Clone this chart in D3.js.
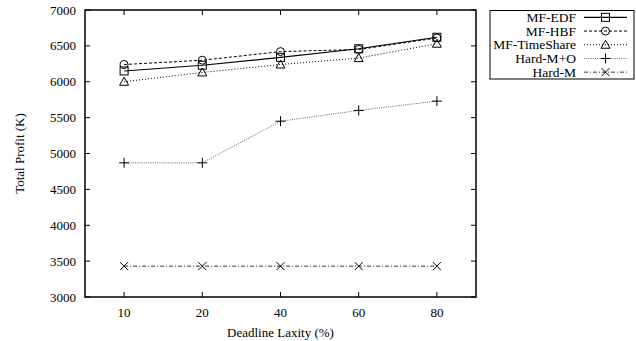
<!DOCTYPE html>
<html>
<head>
<meta charset="utf-8">
<script src="https://cdn.jsdelivr.net/npm/d3@7"></script>
<style>
  body { margin: 0; background: #fff; }
  text { font-family: "Liberation Serif", "Times New Roman", serif; fill: #000; }
</style>
</head>
<body>
<svg class="chart"></svg>
<script>
// data
const laxity = ["10", "20", "40", "60", "80"];
const seriesNames = ["MF-EDF", "MF-HBF", "MF-TimeShare", "Hard-M+O", "Hard-M"];
const mfEdf = [6150, 6230, 6340, 6460, 6620];
const mfHbf = [6240, 6300, 6420, 6450, 6610];
const mfTimeShare = [6000, 6130, 6240, 6330, 6530];
const hardMO = [4870, 4870, 5450, 5600, 5730];
const hardM = [3430, 3430, 3430, 3430, 3430];
const yTicks = [3000, 3500, 4000, 4500, 5000, 5500, 6000, 6500, 7000];

const series = [mfEdf, mfHbf, mfTimeShare, hardMO, hardM];

// line style and marker per series
const styles = [
  { dash: null, stroke: "#000", width: 1.2, marker: "square" },
  { dash: "3,2", stroke: "#000", width: 1, marker: "circle" },
  { dash: "1,2", stroke: "#000", width: 1, marker: "triangle" },
  { dash: "1,1.2", stroke: "#666", width: 1, marker: "plus" },
  { dash: "4,2,1,2", stroke: "#000", width: 0.8, marker: "cross" }
];

const width = 636, height = 341;
const plotL = 85, plotR = 476, plotT = 10, plotB = 297;
const fs = "13px";

const svg = d3.select(".chart")
  .attr("width", width)
  .attr("height", height);

// x is index based, categories evenly spaced
const x = d3.scaleLinear()
  .domain([-0.5, laxity.length - 0.5])
  .range([plotL, plotR]);

const y = d3.scaleLinear()
  .domain([3000, 7000])
  .range([plotB, plotT]);

// ticks on all four sides, pointing in
const tickLen = 5;
const g = svg.append("g");

g.selectAll(".ytl").data(yTicks).enter().append("line")
  .attr("x1", plotL).attr("x2", plotL + tickLen)
  .attr("y1", d => y(d)).attr("y2", d => y(d))
  .attr("stroke", "#000");
g.selectAll(".ytr").data(yTicks).enter().append("line")
  .attr("x1", plotR).attr("x2", plotR - tickLen)
  .attr("y1", d => y(d)).attr("y2", d => y(d))
  .attr("stroke", "#000");
g.selectAll(".ylab").data(yTicks).enter().append("text")
  .attr("x", plotL - 9)
  .attr("y", d => y(d))
  .attr("dy", "0.35em")
  .attr("text-anchor", "end")
  .style("font-size", fs)
  .text(d => d);

g.selectAll(".xtb").data(laxity).enter().append("line")
  .attr("x1", (d, i) => x(i)).attr("x2", (d, i) => x(i))
  .attr("y1", plotB).attr("y2", plotB - tickLen)
  .attr("stroke", "#000");
g.selectAll(".xtt").data(laxity).enter().append("line")
  .attr("x1", (d, i) => x(i)).attr("x2", (d, i) => x(i))
  .attr("y1", plotT).attr("y2", plotT + tickLen)
  .attr("stroke", "#000");
g.selectAll(".xlab").data(laxity).enter().append("text")
  .attr("x", (d, i) => x(i))
  .attr("y", plotB + 19.5)
  .attr("text-anchor", "middle")
  .style("font-size", fs)
  .text(d => d);

// frame
svg.append("rect")
  .attr("x", plotL).attr("y", plotT)
  .attr("width", plotR - plotL).attr("height", plotB - plotT)
  .attr("fill", "none")
  .attr("stroke", "#000")
  .attr("stroke-width", 1.5);

// axis titles
svg.append("text")
  .attr("transform", `translate(24, ${(plotT + plotB) / 2}) rotate(-90)`)
  .attr("text-anchor", "middle")
  .style("font-size", fs)
  .text("Total Profit (K)");

svg.append("text")
  .attr("x", (plotL + plotR) / 2)
  .attr("y", plotB + 39.5)
  .attr("text-anchor", "middle")
  .style("font-size", fs)
  .text("Deadline Laxity (%)");

// marker drawing helper
function drawMarker(sel, type, cx, cy) {
  const s = 4;
  if (type === "square") {
    sel.append("rect").attr("x", cx - s).attr("y", cy - s)
      .attr("width", 2 * s).attr("height", 2 * s)
      .attr("fill", "none").attr("stroke", "#000");
  } else if (type === "circle") {
    sel.append("circle").attr("cx", cx).attr("cy", cy).attr("r", s)
      .attr("fill", "none").attr("stroke", "#000");
  } else if (type === "triangle") {
    sel.append("path")
      .attr("d", `M${cx},${cy - s - 0.5}L${cx + s + 0.5},${cy + s - 0.5}L${cx - s - 0.5},${cy + s - 0.5}Z`)
      .attr("fill", "none").attr("stroke", "#000");
  } else if (type === "plus") {
    sel.append("path")
      .attr("d", `M${cx - s - 1},${cy}H${cx + s + 1}M${cx},${cy - s - 1}V${cy + s + 1}`)
      .attr("stroke", "#000");
  } else if (type === "cross") {
    sel.append("path")
      .attr("d", `M${cx - s},${cy - s}L${cx + s},${cy + s}M${cx - s},${cy + s}L${cx + s},${cy - s}`)
      .attr("stroke", "#000");
  }
}

const line = d3.line()
  .x((d, i) => x(i))
  .y(d => y(d));

series.forEach((vals, k) => {
  const st = styles[k];
  const sg = svg.append("g");
  sg.append("path")
    .datum(vals)
    .attr("d", line)
    .attr("fill", "none")
    .attr("stroke", st.stroke)
    .attr("stroke-width", st.width)
    .attr("stroke-dasharray", st.dash);
  vals.forEach((v, i) => drawMarker(sg, st.marker, x(i), y(v)));
});

// legend box
const lgX = 490, lgY = 10.5, lgW = 144, rowH = 13.7;
svg.append("rect")
  .attr("x", lgX).attr("y", lgY)
  .attr("width", lgW).attr("height", rowH * seriesNames.length)
  .attr("fill", "none")
  .attr("stroke", "#000");

seriesNames.forEach((name, k) => {
  const st = styles[k];
  const cy = lgY + rowH * (k + 0.5);
  const lg = svg.append("g");
  lg.append("text")
    .attr("x", 576)
    .attr("y", cy)
    .attr("dy", "0.35em")
    .attr("text-anchor", "end")
    .style("font-size", "13.5px")
    .text(name);
  lg.append("line")
    .attr("x1", 584).attr("x2", 627)
    .attr("y1", cy).attr("y2", cy)
    .attr("stroke", st.stroke)
    .attr("stroke-width", st.width)
    .attr("stroke-dasharray", st.dash);
  drawMarker(lg, st.marker, 605.5, cy);
});
</script>
</body>
</html>
